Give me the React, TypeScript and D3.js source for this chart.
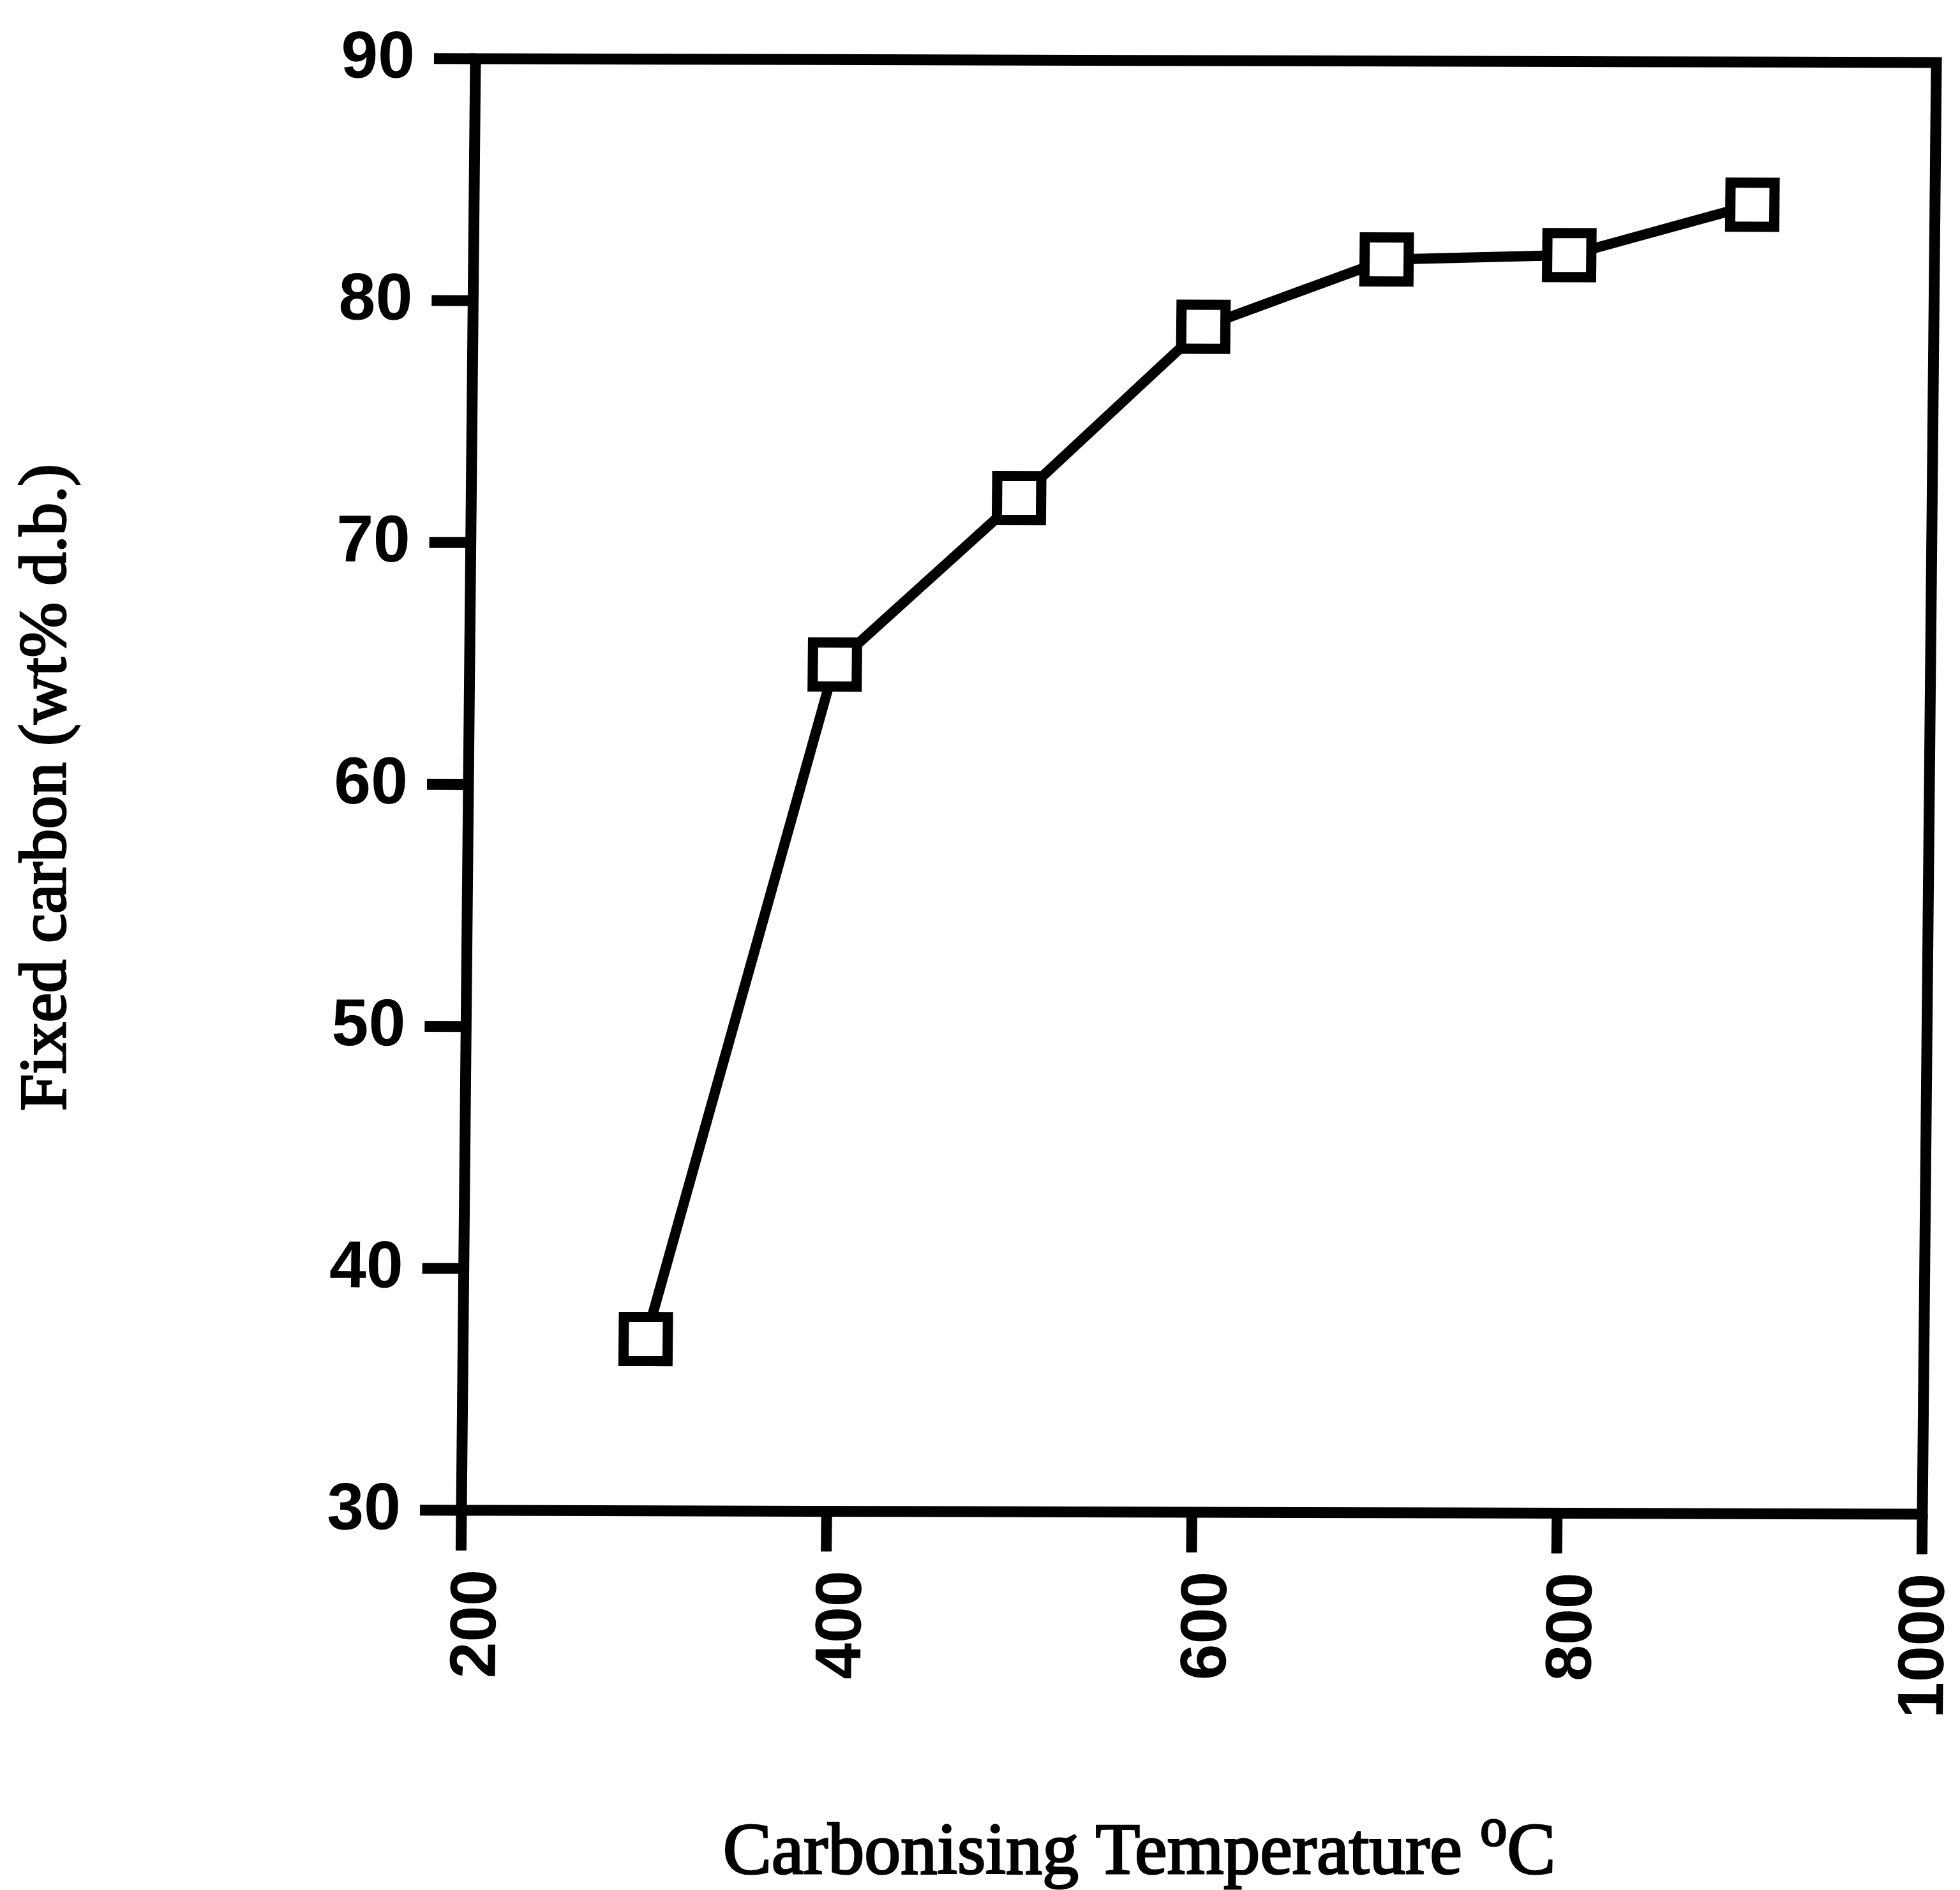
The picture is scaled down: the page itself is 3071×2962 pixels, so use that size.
import React from "react";
import * as d3 from "d3";

// Fixed carbon content of char vs carbonising temperature
const temperature = [300, 400, 500, 600, 700, 800, 900];
const fixedCarbon = [37.1, 65.0, 71.9, 79.0, 81.8, 82.0, 84.1];
const xTicks = [200, 400, 600, 800, 1000];
const yTicks = [30, 40, 50, 60, 70, 80, 90];
const xDomain = [200, 1000];
const yDomain = [30, 90];

const W = 3071;
const H = 2962;
const plot = { left: 723, right: 3012, top: 92, bottom: 2367 };

// slight shear of the plot frame, anchored at the bottom-left corner
const shearX = -0.00967;
const shearY = 0.0026;
const shearE = -shearX * plot.bottom;
const shearF = -shearY * plot.left;

const FRAME_W = 17;
const LINE_W = 16;
const MARKER_SIDE = 69;
const MARKER_STROKE = 16;
const TICK_LEN_Y = 65;
const TICK_LEN_X = 63;

const tickFont = "'Liberation Sans', Arial, sans-serif";
const titleFont = "'Liberation Serif', 'Times New Roman', serif";

export default function App() {
  const x = d3.scaleLinear().domain(xDomain).range([plot.left, plot.right]);
  const y = d3.scaleLinear().domain(yDomain).range([plot.bottom, plot.top]);

  const points = temperature.map((t, i) => [t, fixedCarbon[i]] as [number, number]);
  const line = d3
    .line<[number, number]>()
    .x((d) => x(d[0]))
    .y((d) => y(d[1]));
  const square = d3.symbol().type(d3.symbolSquare).size(MARKER_SIDE * MARKER_SIDE)();

  // rotated x labels sit just right of their tick, kept inside the canvas
  const xLabelPos = (v: number) => Math.min(x(v) + 55, W - 24);

  return (
    <svg
      width={W}
      height={H}
      viewBox={`0 0 ${W} ${H}`}
      style={{ position: "absolute", left: 0, top: 0, background: "#fff" }}
    >
      <rect x={0} y={0} width={W} height={H} fill="#fff" />
      <g transform={`matrix(1, ${shearY}, ${shearX}, 1, ${shearE}, ${shearF})`}>
        {/* frame */}
        <rect
          x={x(xDomain[0])}
          y={y(yDomain[1])}
          width={x(xDomain[1]) - x(xDomain[0])}
          height={y(yDomain[0]) - y(yDomain[1])}
          fill="none"
          stroke="#000"
          strokeWidth={FRAME_W}
          strokeLinejoin="miter"
        />
        {/* y ticks and labels */}
        {yTicks.map((v) => (
          <g key={`y${v}`}>
            <line
              x1={plot.left - TICK_LEN_Y}
              x2={plot.left}
              y1={y(v)}
              y2={y(v)}
              stroke="#000"
              strokeWidth={FRAME_W}
            />
            <text
              x={plot.left - TICK_LEN_Y - 30}
              y={y(v) + 30}
              textAnchor="end"
              fontFamily={tickFont}
              fontWeight="bold"
              fontSize={104}
              fill="#000"
            >
              {v}
            </text>
          </g>
        ))}
        {/* x ticks and labels */}
        {xTicks.map((v) => (
          <g key={`x${v}`}>
            <line
              x1={x(v)}
              x2={x(v)}
              y1={plot.bottom}
              y2={plot.bottom + TICK_LEN_X}
              stroke="#000"
              strokeWidth={FRAME_W}
            />
            <text
              transform={`translate(${xLabelPos(v)}, ${plot.bottom + 93}) rotate(-90)`}
              textAnchor="end"
              fontFamily={tickFont}
              fontWeight="bold"
              fontSize={102}
              fill="#000"
            >
              {v}
            </text>
          </g>
        ))}
        {/* data line */}
        <path
          d={line(points) ?? ""}
          fill="none"
          stroke="#000"
          strokeWidth={LINE_W}
          strokeLinejoin="round"
        />
        {/* markers */}
        {points.map((p, i) => (
          <path
            key={`m${i}`}
            d={square ?? ""}
            transform={`translate(${x(p[0])}, ${y(p[1])})`}
            fill="#fff"
            stroke="#000"
            strokeWidth={MARKER_STROKE}
          />
        ))}
      </g>
      {/* axis titles */}
      <text
        transform={`translate(102, 1234) rotate(-90)`}
        textAnchor="middle"
        fontFamily={titleFont}
        fontSize={104}
        fill="#000"
        stroke="#000"
        strokeWidth={3}
      >
        Fixed carbon (wt% d.b.)
      </text>
      <text
        x={1785}
        y={2936}
        textAnchor="middle"
        fontFamily={titleFont}
        fontSize={114}
        fill="#000"
        stroke="#000"
        strokeWidth={3}
      >
        Carbonising Temperature{" "}
        <tspan fontSize={84} dy={-44}>
          o
        </tspan>
        <tspan dy={44}>C</tspan>
      </text>
    </svg>
  );
}
